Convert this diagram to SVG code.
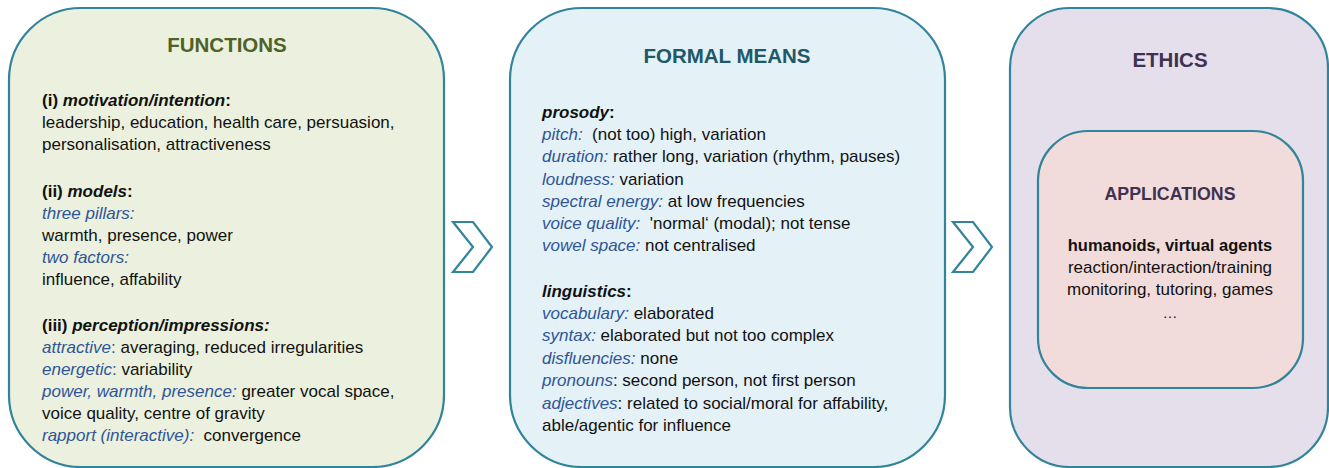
<svg xmlns="http://www.w3.org/2000/svg" width="1329" height="468" viewBox="0 0 1329 468">
<style>
.box{stroke:#31849b;stroke-width:2.2}
.t{font-family:"Liberation Sans",Arial,sans-serif;font-size:17px;fill:#111}
.h{font-family:"Liberation Sans",Arial,sans-serif;font-size:20.5px;font-weight:bold;text-anchor:middle}
.b{font-weight:bold}
.i{font-style:italic}
.l{font-style:italic;fill:#2f5597}
.c{text-anchor:middle}
.chev{fill:#fff;stroke:#31849b;stroke-width:2.2;stroke-linejoin:miter}
</style>
<rect width="1329" height="468" fill="#fff"/>
<g id="functions">
<rect class="box" x="9" y="8" width="435" height="459" rx="72" ry="72" fill="#ebf1de"/>
<text class="h" x="227" y="52" fill="#4f6228">FUNCTIONS</text>
<text class="t" x="42" y="106"><tspan class="b">(i) </tspan><tspan class="b i">motivation/intention</tspan><tspan class="b">:</tspan></text>
<text class="t" x="42" y="128">leadership, education, health care, persuasion,</text>
<text class="t" x="42" y="150">personalisation, attractiveness</text>
<text class="t" x="42" y="197"><tspan class="b">(ii) </tspan><tspan class="b i">models</tspan><tspan class="b">:</tspan></text>
<text class="t" x="42" y="219"><tspan class="l">three pillars:</tspan></text>
<text class="t" x="42" y="241">warmth, presence, power</text>
<text class="t" x="42" y="263"><tspan class="l">two factors:</tspan></text>
<text class="t" x="42" y="285">influence, affability</text>
<text class="t" x="42" y="331"><tspan class="b">(iii) </tspan><tspan class="b i">perception/impressions:</tspan></text>
<text class="t" x="42" y="353"><tspan class="l">attractive</tspan><tspan fill="#2f5597">:</tspan> averaging, reduced irregularities</text>
<text class="t" x="42" y="375"><tspan class="l">energetic</tspan><tspan fill="#2f5597">:</tspan> variability</text>
<text class="t" x="42" y="397"><tspan class="l">power, warmth, presence:</tspan> greater vocal space,</text>
<text class="t" x="42" y="419">voice quality, centre of gravity</text>
<text class="t" x="42" y="441" xml:space="preserve"><tspan class="l">rapport (interactive):</tspan>  convergence</text>
</g>
<g id="formal-means">
<rect class="box" x="510" y="8" width="435" height="459" rx="72" ry="72" fill="#e4f1f7"/>
<text class="h" x="727" y="63" fill="#215868">FORMAL MEANS</text>
<text class="t" x="542" y="118"><tspan class="b i">prosody</tspan><tspan class="b">:</tspan></text>
<text class="t" x="542" y="140" xml:space="preserve"><tspan class="l">pitch:</tspan>  (not too) high, variation</text>
<text class="t" x="542" y="162"><tspan class="l">duration:</tspan> rather long, variation (rhythm, pauses)</text>
<text class="t" x="542" y="185"><tspan class="l">loudness:</tspan> variation</text>
<text class="t" x="542" y="207"><tspan class="l">spectral energy:</tspan> at low frequencies</text>
<text class="t" x="542" y="229" xml:space="preserve"><tspan class="l">voice quality:</tspan>  'normal‘ (modal); not tense</text>
<text class="t" x="542" y="251"><tspan class="l">vowel space:</tspan> not centralised</text>
<text class="t" x="542" y="297"><tspan class="b i">linguistics</tspan><tspan class="b">:</tspan></text>
<text class="t" x="542" y="319"><tspan class="l">vocabulary:</tspan> elaborated</text>
<text class="t" x="542" y="341"><tspan class="l">syntax:</tspan> elaborated but not too complex</text>
<text class="t" x="542" y="364"><tspan class="l">disfluencies:</tspan> none</text>
<text class="t" x="542" y="386"><tspan class="l">pronouns</tspan>: second person, not first person</text>
<text class="t" x="542" y="409"><tspan class="l">adjectives</tspan>: related to social/moral for affability,</text>
<text class="t" x="542" y="431">able/agentic for influence</text>
</g>
<g id="ethics">
<rect class="box" x="1010" y="8" width="318" height="459" rx="60" ry="60" fill="#e5dfec"/>
<text class="h" x="1170" y="67" fill="#3f3151">ETHICS</text>
</g>
<g id="applications">
<rect class="box" x="1038" y="131" width="265" height="257" rx="50" ry="50" fill="#f2dcdb"/>
<text class="h" x="1170" y="200" fill="#3f3151" style="font-size:17.8px">APPLICATIONS</text>
<text class="t c b" x="1170" y="251" style="font-size:16.5px">humanoids, virtual agents</text>
<text class="t c" x="1170" y="273">reaction/interaction/training</text>
<text class="t c" x="1170" y="295">monitoring, tutoring, games</text>
<text class="t c" x="1170" y="318" style="font-size:15px">…</text>
</g>
<g id="connectors">
<polygon class="chev" points="453,222 473,222 492,247 473,272 453,272 473,247"/>
<polygon class="chev" points="953,222 973,222 992,247 973,272 953,272 973,247"/>
</g>
</svg>
